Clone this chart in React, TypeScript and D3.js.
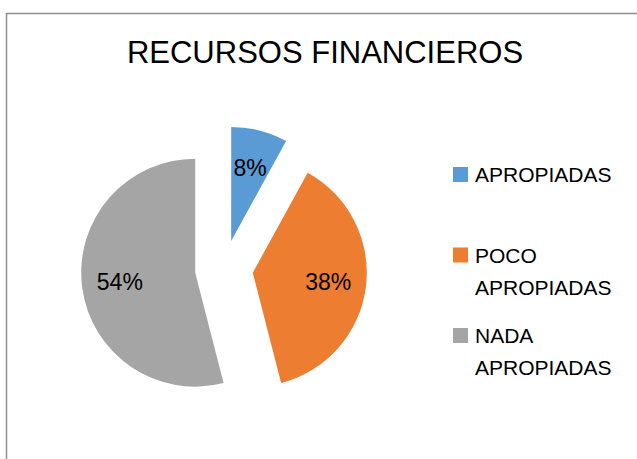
import React, { useEffect, useRef } from 'react';
import * as d3 from 'd3';

const categories = ['APROPIADAS', 'POCO APROPIADAS', 'NADA APROPIADAS'];
const legendLines = [['APROPIADAS'], ['POCO', 'APROPIADAS'], ['NADA', 'APROPIADAS']];
const values = [8, 38, 54];
const colors = ['#5B9BD5', '#ED7D31', '#A5A5A5'];
const title = 'RECURSOS FINANCIEROS';

const App: React.FC = () => {
  const ref = useRef<SVGSVGElement | null>(null);

  useEffect(() => {
    const width = 637;
    const height = 459;
    const cx = 224;
    const cy = 269;
    const radius = 114;
    const explode = 29;
    const labelR = 76;

    const svg = d3.select(ref.current);
    svg.selectAll('*').remove();
    svg.attr('width', width).attr('height', height);

    svg.append('rect').attr('width', width).attr('height', height).attr('fill', '#fff');

    // frame (only top and left visible)
    svg.append('path')
      .attr('d', `M6.5,${height} V13.5 H${width}`)
      .attr('fill', 'none')
      .attr('stroke', '#8f8f8f')
      .attr('stroke-width', 1.5);

    svg.append('text')
      .attr('x', 325)
      .attr('y', 63)
      .attr('text-anchor', 'middle')
      .attr('font-family', 'Liberation Sans, Arial, sans-serif')
      .attr('font-size', 31)
      .attr('fill', '#000')
      .text(title);

    const pie = d3.pie<number>().sort(null).value((d) => d);
    const arcs = pie(values);
    const arc = d3.arc<d3.PieArcDatum<number>>().innerRadius(0).outerRadius(radius);

    const g = svg.append('g').attr('transform', `translate(${cx},${cy})`);

    const slice = g.selectAll('g.slice')
      .data(arcs)
      .enter()
      .append('g')
      .attr('class', 'slice')
      .attr('transform', (d) => {
        const a = (d.startAngle + d.endAngle) / 2;
        return `translate(${explode * Math.sin(a)},${-explode * Math.cos(a)})`;
      });

    slice.append('path')
      .attr('d', arc)
      .attr('fill', (_, i) => colors[i]);

    slice.append('text')
      .attr('x', (d) => labelR * Math.sin((d.startAngle + d.endAngle) / 2))
      .attr('y', (d) => -labelR * Math.cos((d.startAngle + d.endAngle) / 2))
      .attr('dy', '0.36em')
      .attr('text-anchor', 'middle')
      .attr('font-family', 'Liberation Sans, Arial, sans-serif')
      .attr('font-size', 23)
      .attr('fill', '#000')
      .text((d) => `${d.data}%`);

    // legend
    const legendY = d3.scalePoint<string>().domain(categories).range([182, 343]);
    const legend = svg.append('g');
    categories.forEach((c, i) => {
      const y = legendY(c)!;
      legend.append('rect')
        .attr('x', 453)
        .attr('y', y - 15)
        .attr('width', 15)
        .attr('height', 15)
        .attr('fill', colors[i]);
      legendLines[i].forEach((line, j) => {
        legend.append('text')
          .attr('x', 475)
          .attr('y', y + j * 32)
          .attr('font-family', 'Liberation Sans, Arial, sans-serif')
          .attr('font-size', 21)
          .attr('fill', '#000')
          .text(line);
      });
    });
  }, []);

  return <svg ref={ref} style={{ position: 'absolute', left: 0, top: 0 }}></svg>;
};

export default App;
